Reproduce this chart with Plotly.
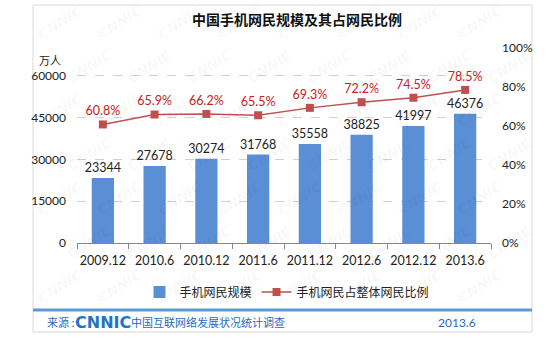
import plotly.graph_objects as go

# Survey periods and values
periods = ["2009.12", "2010.6", "2010.12", "2011.6", "2011.12", "2012.6", "2012.12", "2013.6"]
mobile_users = [23344, 27678, 30274, 31768, 35558, 38825, 41997, 46376]   # 万人
mobile_share = [0.608, 0.659, 0.662, 0.655, 0.693, 0.722, 0.745, 0.785]

left_ticks = [0, 15000, 30000, 45000, 60000]
right_ticks = [0, 0.2, 0.4, 0.6, 0.8, 1.0]

W, H = 560, 339
L, R, T, B = 77, 491, 48, 243  # plot area in pixels


def px(x):
    """Figure pixel x -> plot-area paper fraction."""
    return (x - L) / (R - L)


def py(y):
    """Figure pixel y -> plot-area paper fraction."""
    return (B - y) / (B - T)


CN = "Noto Sans CJK SC"
NUM = "Lato, 'Noto Sans', sans-serif"
BLUE_TXT = "#1f6bbf"

fig = go.Figure()

fig.add_trace(go.Bar(
    x=periods, y=mobile_users, name="手机网民规模",
    marker=dict(color="#5a8fd6", line=dict(width=0)),
    width=0.43,
    text=[str(v) for v in mobile_users], textposition="outside",
    constraintext="none",
    textfont=dict(family=NUM, size=12.5, color="#222222"),
    cliponaxis=False,
))

fig.add_trace(go.Scatter(
    x=periods, y=mobile_share, name="手机网民占整体网民比例", yaxis="y2",
    mode="lines+markers+text",
    line=dict(color="#c0504d", width=1.5),
    marker=dict(symbol="square", size=8, color="#c0504d"),
    text=[f"{v*100:.1f}%" for v in mobile_share], textposition="top center",
    textfont=dict(family=NUM, size=12.5, color="#c8201e"),
    cliponaxis=False,
))

# faint CNNIC watermark pattern inside the frame
annotations = []
for row in range(7):
    for col in range(8):
        xp = 60 + col * 60 + (row % 2) * 30
        yp = 22 + row * 44
        annotations.append(dict(
            x=px(xp), y=py(yp), xref="paper", yref="paper",
            xanchor="center", yanchor="middle",
            text="<b><i>CNNIC</i></b>", showarrow=False, textangle=-32,
            font=dict(family="DejaVu Sans", size=14, color="rgba(0,0,0,0.035)"),
        ))

annotations += [
    dict(x=px(50), y=py(60), xref="paper", yref="paper", text="万人",
         xanchor="center", yanchor="middle",
         showarrow=False, font=dict(family=CN, size=11, color="#222222")),
    dict(x=px(45), y=py(322), xref="paper", yref="paper", xanchor="left", yanchor="middle",
         text="来源 :", showarrow=False, font=dict(family=CN, size=11, color=BLUE_TXT)),
    dict(x=px(73), y=py(322), xref="paper", yref="paper", xanchor="left", yanchor="middle",
         text="<b>CNNIC</b>", showarrow=False,
         font=dict(family="DejaVu Sans", size=16, color="#1e74c8")),
    dict(x=px(129), y=py(322), xref="paper", yref="paper", xanchor="left", yanchor="middle",
         text="中国互联网络发展状况统计调查", showarrow=False,
         font=dict(family=CN, size=11, color=BLUE_TXT)),
    dict(x=px(478), y=py(322), xref="paper", yref="paper", xanchor="right", yanchor="middle",
         text="2013.6", showarrow=False, font=dict(family=NUM, size=12, color=BLUE_TXT)),
]

shapes = [
    # outer frame
    dict(type="rect", xref="paper", yref="paper",
         x0=px(33), x1=px(532), y0=py(332), y1=py(5),
         line=dict(color="#d9d9d9", width=1), layer="below"),
    # footer rule
    dict(type="line", xref="paper", yref="paper",
         x0=px(33), x1=px(532), y0=py(310), y1=py(310),
         line=dict(color="#5b9bd5", width=3)),
]

fig.update_layout(
    width=W, height=H,
    margin=dict(l=L, r=W - R, t=T, b=H - B),
    paper_bgcolor="white", plot_bgcolor="rgba(0,0,0,0)",
    title=dict(text="<b>中国手机网民规模及其占网民比例</b>", x=297 / W, xanchor="center",
               y=1 - 20 / H, yanchor="middle",
               font=dict(family=CN, size=14, color="#111111")),
    xaxis=dict(
        type="category", showgrid=False, showline=True, linecolor="#888888",
        ticks="outside", tickson="boundaries", ticklen=5, tickcolor="#888888",
        tickangle=0, ticklabelstandoff=6,
        tickfont=dict(family=NUM, size=12.5, color="#222222"),
        range=[-0.5, len(periods) - 0.5],
    ),
    yaxis=dict(
        range=[0, 70000], tickvals=left_ticks, ticktext=[str(v) for v in left_ticks],
        showgrid=True, gridcolor="#d0d0d0", griddash="dash", gridwidth=1,
        zeroline=False, showline=False, ticklabelstandoff=10,
        tickfont=dict(family=NUM, size=12, color="#222222"),
    ),
    yaxis2=dict(
        overlaying="y", side="right", range=[0, 1], tickvals=right_ticks,
        tickformat=".0%", showgrid=False, zeroline=False, showline=False,
        ticklabelstandoff=10,
        tickfont=dict(family=NUM, size=12, color="#222222"),
    ),
    showlegend=True,
    legend=dict(orientation="h", x=px(287), xanchor="center", y=py(292), yanchor="middle",
                font=dict(family=CN, size=12, color="#222222"),
                bgcolor="rgba(0,0,0,0)", itemwidth=30, tracegroupgap=0),
    annotations=annotations,
    shapes=shapes,
)

fig.write_html("out.html")
